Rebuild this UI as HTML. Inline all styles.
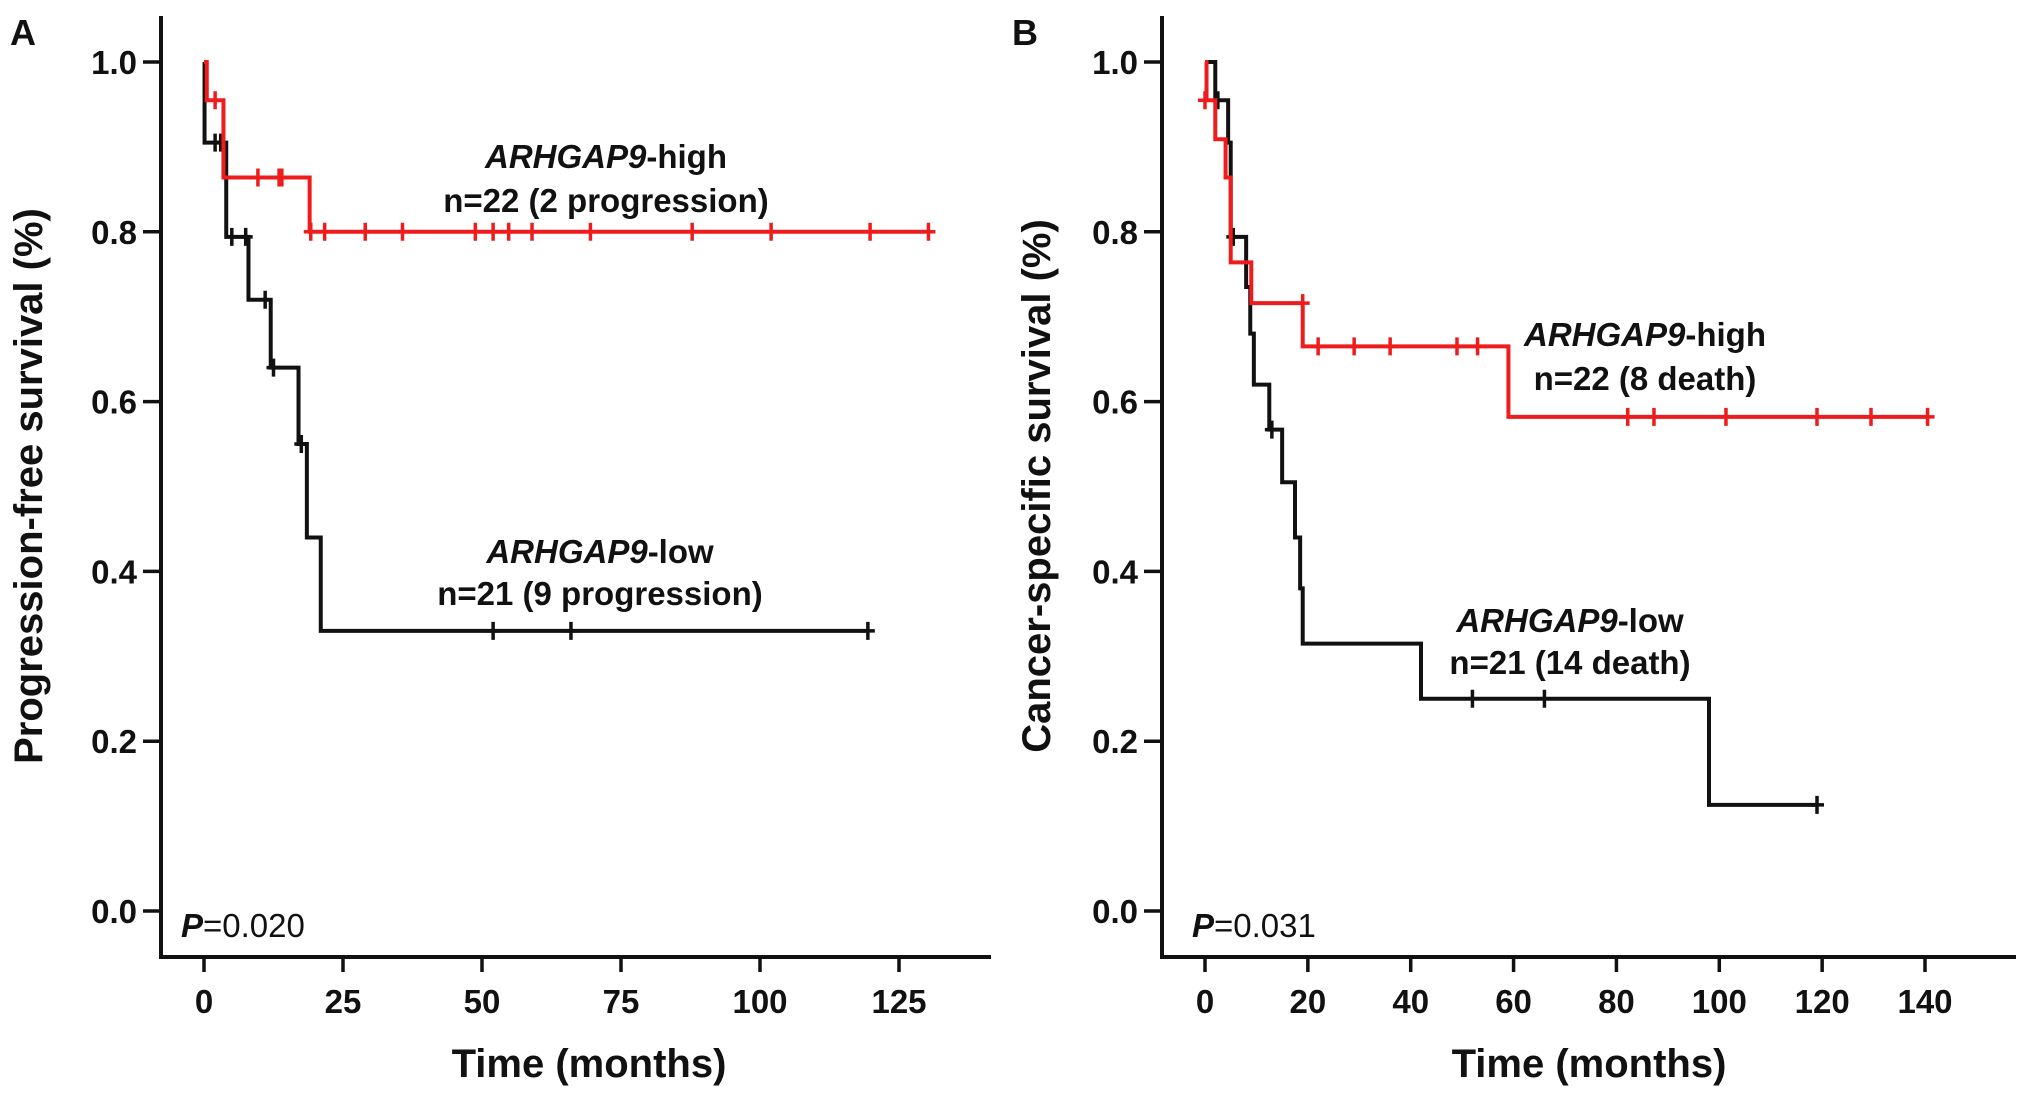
<!DOCTYPE html>
<html><head><meta charset="utf-8"><style>
html,body{margin:0;padding:0;background:#fff}
svg{display:block;font-family:"Liberation Sans",Arial,sans-serif;font-weight:bold}
</style></head><body>
<svg id="c" width="2031" height="1096" viewBox="0 0 2031 1096"></svg>
<script>
// Panel A data
const aXTicks=[0,25,50,75,100,125];
const aHighT=[0,0.5,3.5,19,130.5];
const aHighS=[1.0,0.955,0.864,0.80,0.80];
const aHighCens=[[2,0.955],[9.7,0.864],[13.5,0.864],[14,0.864],[19.2,0.80],[21.7,0.80],[29,0.80],[35.7,0.80],[48.8,0.80],[52,0.80],[54.8,0.80],[59,0.80],[69.5,0.80],[87.8,0.80],[102,0.80],[119.8,0.80],[130.3,0.80]];
const aLowT=[0,0.1,4,8,12,17,18.5,21,119.4];
const aLowS=[1.0,0.905,0.794,0.72,0.64,0.55,0.44,0.33,0.33];
const aLowCens=[[2,0.905],[3,0.905],[5,0.794],[7.5,0.794],[11,0.72],[12.5,0.64],[17.5,0.55],[52,0.33],[66,0.33],[119.4,0.33]];
// Panel B data
const bXTicks=[0,20,40,60,80,100,120,140];
const bHighT=[0,0.3,2,4,5,9,19,59,140.5];
const bHighS=[1.0,0.955,0.909,0.864,0.764,0.716,0.665,0.582,0.582];
const bHighCens=[[0,0.955],[19,0.716],[22,0.665],[29,0.665],[36,0.665],[49,0.665],[53,0.665],[82.2,0.582],[87.3,0.582],[101.3,0.582],[119,0.582],[129.5,0.582],[140.5,0.582]];
const bLowT=[0,2,4.5,5,8,8.8,9.5,12.5,15,17.5,18.5,19,42,98,119];
const bLowS=[1.0,0.955,0.905,0.794,0.735,0.68,0.62,0.567,0.505,0.44,0.38,0.315,0.25,0.125,0.125];
const bLowCens=[[2.5,0.955],[5.5,0.794],[13,0.567],[52,0.25],[66,0.25],[119,0.125]];
const yTicks=[0,0.2,0.4,0.6,0.8,1.0];

const svg=document.getElementById('c');
const NS='http://www.w3.org/2000/svg';
function mk(tag,attrs,parent){const e=document.createElementNS(NS,tag);for(const k in attrs)e.setAttribute(k,attrs[k]);(parent||svg).appendChild(e);return e;}
function txt(x,y,s,size,anchor,parent){const e=mk('text',{x:x,y:y,'font-size':size,'text-anchor':anchor||'middle',fill:'#111'},parent);e.innerHTML=s;return e;}

function panel(o){
  const g=mk('g',{});
  
  
  const X=v=>o.x0+(v-o.xmin)/(o.xmax-o.xmin)*(o.x1-o.x0);
  const Y=v=>911+(62-911)*v;
  const ax=mk('path',{d:`M${o.ax},16 V957 H${o.axEnd}`,stroke:'#111','stroke-width':4,fill:'none'},g);
  
  
  yTicks.forEach(v=>{
    mk('line',{x1:o.ax-18,x2:o.ax,y1:Y(v),y2:Y(v),stroke:'#111','stroke-width':3.5},g);
    const t=txt(o.ax-24,Y(v)+12,v.toFixed(1),33,'end',g);
    
    
  });
  o.xTicks.forEach(v=>{
    mk('line',{x1:X(v),x2:X(v),y1:957,y2:972,stroke:'#111','stroke-width':3.5},g);
    const t=txt(X(v),1013,String(v),33,'middle',g);
    
    
  });
  function curve(T,S,cens,color,name){
    let d=`M${X(T[0])},${Y(S[0])}`;
    for(let i=1;i<T.length;i++){d+=` H${X(T[i])} V${Y(S[i])}`;}
    const p=mk('path',{d:d,stroke:color,'stroke-width':4,fill:'none'},g);
    
    
    cens.forEach(c=>{
      const m=mk('path',{d:`M${X(c[0])},${Y(c[1])-9} v18 M${X(c[0])-7},${Y(c[1])} h14`,stroke:color,'stroke-width':3.5,fill:'none'},g);
      
      
    });
  }
  curve(o.lowT,o.lowS,o.lowC,'#111','low-curve');
  curve(o.highT,o.highS,o.highC,'#ee1c1c','high-curve');
  const yt=txt(0,0,o.ytitle,40,'middle',g);
  yt.setAttribute('transform',`translate(${o.ytx},486) rotate(-90)`);
  
  
  const xt=txt(o.xtx,1077,'Time (months)',40,'middle',g);
  
  
  const lt=txt(o.lx,45,o.letter,36,'start',g);
  
  
  const pv=txt(o.px,937,'<tspan font-style="italic">P</tspan><tspan font-weight="normal">='+o.p+'</tspan>',33,'start',g);
  
  
  o.labels.forEach(l=>{
    const t=txt(l[0],l[1],l[2],33,'middle',g);
    
    
  });
}
panel({name:'panel-a',ax:161,axEnd:991,x0:204,x1:899,xmin:0,xmax:125,xTicks:aXTicks,
  highT:aHighT,highS:aHighS,highC:aHighCens,lowT:aLowT,lowS:aLowS,lowC:aLowCens,
  ytitle:'Progression-free survival (%)',ytx:42,xtx:589,lx:10,letter:'A',px:181,p:'0.020',
  labels:[[606,168,'<tspan font-style="italic">ARHGAP9</tspan>-high','high-label'],[606,212,'n=22 (2 progression)','high-n-label'],
          [600,563,'<tspan font-style="italic">ARHGAP9</tspan>-low','low-label'],[600,605,'n=21 (9 progression)','low-n-label']]});
panel({name:'panel-b',ax:1162,axEnd:2016,x0:1205,x1:1925,xmin:0,xmax:140,xTicks:bXTicks,
  highT:bHighT,highS:bHighS,highC:bHighCens,lowT:bLowT,lowS:bLowS,lowC:bLowCens,
  ytitle:'Cancer-specific survival (%)',ytx:1050,xtx:1589,lx:1012,letter:'B',px:1192,p:'0.031',
  labels:[[1645,346,'<tspan font-style="italic">ARHGAP9</tspan>-high','high-label'],[1645,390,'n=22 (8 death)','high-n-label'],
          [1570,632,'<tspan font-style="italic">ARHGAP9</tspan>-low','low-label'],[1570,674,'n=21 (14 death)','low-n-label']]});
</script>
</body></html>
